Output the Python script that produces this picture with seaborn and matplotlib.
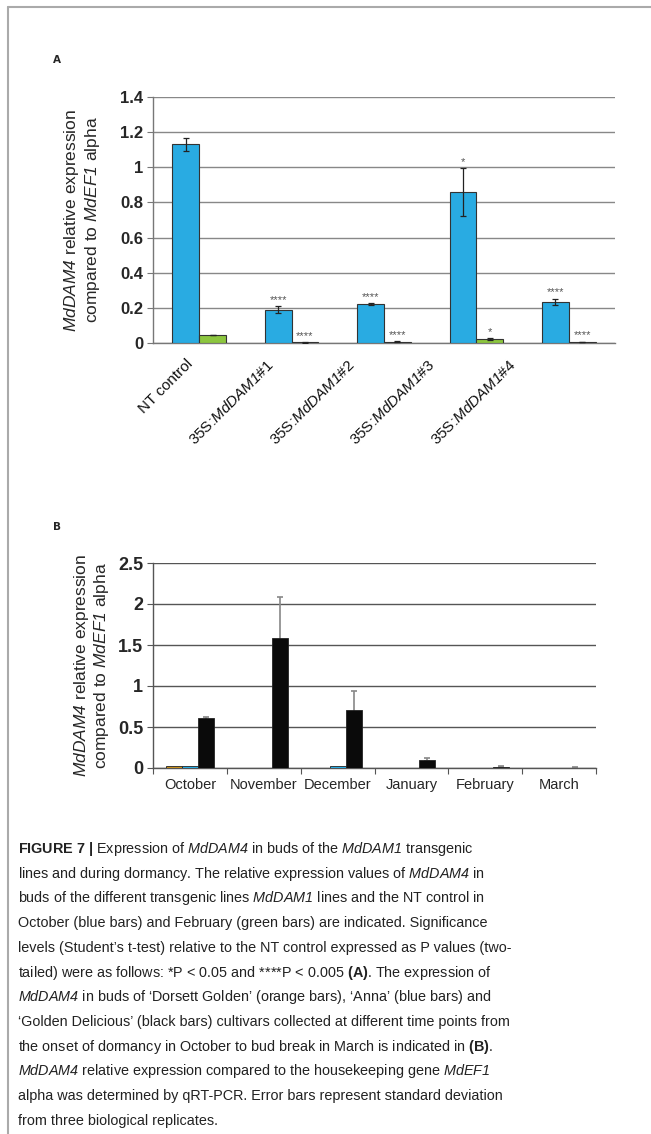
import pandas as pd
import matplotlib.pyplot as plt
import matplotlib.lines as mlines
import matplotlib.transforms as mtrans
import seaborn as sns

# Panel A data: transgenic lines, October (blue) and February (green)
lines_a = ['NT control', '35S:#1', '35S:#2', '35S:#3', '35S:#4']
tick_labels_a = ['NT control',
                 r'35S:$\mathsf{MdDAM1}$#1', r'35S:$\mathsf{MdDAM1}$#2',
                 r'35S:$\mathsf{MdDAM1}$#3', r'35S:$\mathsf{MdDAM1}$#4']
october_vals = [1.13, 0.19, 0.22, 0.86, 0.233]
october_err = [0.038, 0.02, 0.005, 0.135, 0.018]
february_vals = [0.045, 0.003, 0.006, 0.023, 0.005]
february_err = [0.001, 0.002, 0.003, 0.005, 0.002]
october_stars = ['', '****', '****', '*', '****']
february_stars = ['', '****', '****', '*', '****']

# Panel B data: months, three cultivars
months = ['October', 'November', 'December', 'January', 'February', 'March']
dorsett_vals = [0.02, 0.005, 0.0, 0.0, 0.0, 0.0]
anna_vals = [0.02, 0.005, 0.02, 0.003, 0.0, 0.0]
golden_vals = [0.608, 1.588, 0.709, 0.101, 0.015, 0.005]
golden_err = [0.02, 0.5, 0.227, 0.017, 0.005, 0.003]

caption_lines = [
    r"$\bf{FIGURE\ 7\ |}$ Expression of $\mathsf{MdDAM4}$ in buds of the $\mathsf{MdDAM1}$ transgenic",
    r"lines and during dormancy. The relative expression values of $\mathsf{MdDAM4}$ in",
    r"buds of the different transgenic lines $\mathsf{MdDAM1}$ lines and the NT control in",
    r"October (blue bars) and February (green bars) are indicated. Significance",
    r"levels (Student’s t-test) relative to the NT control expressed as P values (two-",
    r"tailed) were as follows: *P < 0.05 and ****P < 0.005 $\bf{(A)}$. The expression of",
    r"$\mathsf{MdDAM4}$ in buds of ‘Dorsett Golden’ (orange bars), ‘Anna’ (blue bars) and",
    r"‘Golden Delicious’ (black bars) cultivars collected at different time points from",
    r"the onset of dormancy in October to bud break in March is indicated in $\bf{(B)}$.",
    r"$\mathsf{MdDAM4}$ relative expression compared to the housekeeping gene $\mathsf{MdEF1}$",
    r"alpha was determined by qRT-PCR. Error bars represent standard deviation",
    r"from three biological replicates.",
]

sns.set_style('white')
plt.rcParams['font.family'] = ['Liberation Sans', 'DejaVu Sans']
plt.rcParams['mathtext.fontset'] = 'custom'
plt.rcParams['mathtext.rm'] = 'Liberation Sans'
plt.rcParams['mathtext.it'] = 'Liberation Sans:italic'
plt.rcParams['mathtext.sf'] = 'Liberation Sans:italic'
plt.rcParams['mathtext.bf'] = 'Liberation Sans:bold'

W, H = 651, 1134
fig = plt.figure(figsize=(W / 100, H / 100), dpi=100)

# page frame
fig.add_artist(mlines.Line2D([8 / W, 1], [1 - 6.5 / H, 1 - 6.5 / H], color='#aaaaaa', lw=1.5))
fig.add_artist(mlines.Line2D([8 / W, 8 / W], [0, 1 - 6.5 / H], color='#aaaaaa', lw=1.5))

ylabel = r"$\mathsf{MdDAM4}$ relative expression" + "\n" + r"compared to $\mathsf{MdEF1}$ alpha"

# ---------- Panel A ----------
ax_a = fig.add_axes([153 / W, 1 - 343 / H, 462 / W, 246 / H])
df_a = pd.DataFrame({
    'line': lines_a * 2,
    'value': october_vals + february_vals,
    'month': ['October'] * 5 + ['February'] * 5,
})
sns.barplot(data=df_a, x='line', y='value', hue='month', order=lines_a,
            hue_order=['October', 'February'], palette=['#29abe2', '#8cc63f'],
            saturation=1, width=0.58, gap=0, errorbar=None, edgecolor='#333333',
            linewidth=0.8, legend=False, ax=ax_a, zorder=3)
for cont, errs, stars in zip(ax_a.containers, [october_err, february_err],
                             [october_stars, february_stars]):
    for bar, e, s in zip(cont, errs, stars):
        cx = bar.get_x() + bar.get_width() / 2
        h = bar.get_height()
        ax_a.errorbar(cx, h, yerr=e, color='#222222', lw=0.9, capsize=2.5,
                      capthick=0.9, zorder=4)
        if s:
            ax_a.text(cx, h + e + 0.008, s, ha='center', va='bottom',
                      fontsize=8, color='#555555')
ax_a.set_xlim(-0.5, 4.5)
ax_a.set_ylim(0, 1.4)
ax_a.set_yticks([0, 0.2, 0.4, 0.6, 0.8, 1.0, 1.2, 1.4])
ax_a.set_yticklabels(['0', '0.2', '0.4', '0.6', '0.8', '1', '1.2', '1.4'],
                     fontsize=12, fontweight='bold')
ax_a.set_xticks(range(5))
ax_a.set_xticklabels([])
# rotated category labels (the original drifts left of its bars a little more each step)
for i, lab in enumerate(tick_labels_a):
    shift = mtrans.ScaledTranslation(-(9 + 11.5 * i) / 100, -19 / 100,
                                     fig.dpi_scale_trans)
    ax_a.text(i, 0, lab, transform=ax_a.get_xaxis_transform() + shift,
              rotation=45, ha='right', va='center', rotation_mode='anchor',
              fontsize=11, color='#111111')
ax_a.tick_params(axis='x', length=0, pad=0)
ax_a.tick_params(axis='y', length=4, width=0.8, color='#777777', left=True, pad=3)
ax_a.yaxis.grid(True, color='#888888', lw=1)
ax_a.set_axisbelow(True)
for side in ['top', 'right']:
    ax_a.spines[side].set_visible(False)
for side in ['left', 'bottom']:
    ax_a.spines[side].set_color('#777777')
    ax_a.spines[side].set_linewidth(1)
ax_a.set_xlabel('')
ax_a.set_ylabel(ylabel, fontsize=12.5, labelpad=13, linespacing=1.15)
fig.text(53 / W, 1 - 60 / H, 'A', fontsize=7.5, fontweight='bold',
         family='DejaVu Sans', va='center')

# ---------- Panel B ----------
ax_b = fig.add_axes([153 / W, 1 - 768 / H, 443 / W, 205 / H])
df_b = pd.DataFrame({
    'month': months * 3,
    'value': dorsett_vals + anna_vals + golden_vals,
    'cultivar': ['Dorsett Golden'] * 6 + ['Anna'] * 6 + ['Golden Delicious'] * 6,
})
sns.barplot(data=df_b, x='month', y='value', hue='cultivar', order=months,
            hue_order=['Dorsett Golden', 'Anna', 'Golden Delicious'],
            palette=['#c8901e', '#29abe2', '#0a0a0a'], saturation=1,
            width=0.65, gap=0, errorbar=None, edgecolor='#222222', linewidth=0.6,
            legend=False, ax=ax_b, zorder=3)
for bar, e in zip(ax_b.containers[2], golden_err):
    cx = bar.get_x() + bar.get_width() / 2
    ax_b.errorbar(cx, bar.get_height(), yerr=e, color='#888888', lw=1.2,
                  capsize=2.5, capthick=1.2, zorder=2)
ax_b.set_xlim(-0.5, 5.5)
ax_b.set_ylim(0, 2.5)
ax_b.set_yticks([0, 0.5, 1.0, 1.5, 2.0, 2.5])
ax_b.set_yticklabels(['0', '0.5', '1', '1.5', '2', '2.5'], fontsize=13,
                     fontweight='bold')
ax_b.set_xticks(range(6))
ax_b.set_xticklabels(months, fontsize=10.5)
ax_b.set_xticks([i - 0.5 for i in range(7)], minor=True)
ax_b.tick_params(axis='x', which='major', length=0, pad=7)
ax_b.tick_params(axis='x', which='minor', length=4, width=0.8, color='#555555',
                 bottom=True)
ax_b.tick_params(axis='y', length=4, width=0.8, color='#555555', left=True, pad=3)
ax_b.yaxis.grid(True, color='#555555', lw=1)
ax_b.set_axisbelow(True)
for side in ['top', 'right']:
    ax_b.spines[side].set_visible(False)
for side in ['left', 'bottom']:
    ax_b.spines[side].set_color('#555555')
    ax_b.spines[side].set_linewidth(1)
ax_b.set_xlabel('')
ax_b.set_ylabel(ylabel, fontsize=12.5, labelpad=5, linespacing=1.1)
fig.text(53 / W, 1 - 527 / H, 'B', fontsize=7.5, fontweight='bold',
         family='DejaVu Sans', va='center')

# ---------- caption ----------
y0 = 853
for i, line in enumerate(caption_lines):
    fig.text(18 / W, 1 - (y0 + i * 24.7) / H, line, fontsize=10.4,
             color='#222222', va='baseline', ha='left')

fig.savefig('out.png', dpi=100, facecolor='white')
